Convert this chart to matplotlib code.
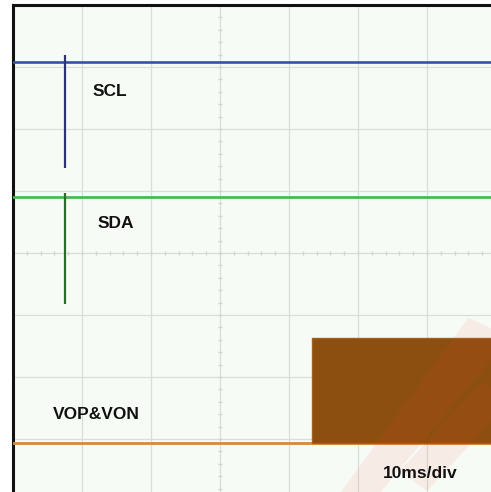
import numpy as np
import matplotlib.pyplot as plt
from matplotlib.patches import Polygon

# scope capture, 10 ms/div, values in divisions (0 = screen centre)
t_end = 100.0                     # ms shown across the 10 divisions
scl_level = 3.08
scl_glitch_t = 7.5
scl_glitch = [1.37, 3.2]
sda_level = 0.9
sda_glitch_t = 7.5
sda_glitch = [-0.82, 0.97]
vop_base = -3.06
vop_on_t = 43.3
vop_top = -1.37

labels = ["SCL", "SDA", "VOP&VON", "10ms/div"]
label_x = [11.6, 12.3, 5.8, 53.6]
label_y = [2.6, 0.48, -2.6, -3.55]

fig = plt.figure(figsize=(4.91, 4.92), dpi=100)
fig.patch.set_facecolor("white")
# the capture is cropped on the right and bottom
ax = fig.add_axes([13 / 491, 1 - 5 / 492 - 496 / 492, 690 / 491, 496 / 492])
ax.set_facecolor("#f7fbf6")
ax.set_xlim(0, t_end)
ax.set_ylim(-4, 4)

# graticule
for gx in np.arange(10, 100, 10):
    ax.axvline(gx, color="#dadeda", lw=0.9, zorder=1)
for gy in np.arange(-3, 4, 1):
    ax.axhline(gy, color="#dadeda", lw=0.9, zorder=1)
ax.axvline(30, color="#d6dad6", lw=0.7, ls=(0, (1, 2)), zorder=1)
ax.axhline(0, color="#d6dad6", lw=0.7, ls=(0, (1, 2)), zorder=1)
minor_x = np.arange(0, 100, 2)
minor_y = np.arange(-4, 4, 0.2)
ax.plot(minor_x, np.zeros_like(minor_x), "|", color="#d2d6d2", ms=3, zorder=1)
ax.plot(np.full_like(minor_y, 30), minor_y, "_", color="#d2d6d2", ms=3, zorder=1)

# faint watermark
wm = Polygon([(0.455, -0.02), (0.51, -0.02), (0.72, 0.33), (0.66, 0.37)],
             closed=True, transform=ax.transAxes, color="#ff3b30", alpha=0.08,
             lw=0, zorder=4)
ax.add_patch(wm)
wm2 = Polygon([(0.56, 0.06), (0.6, 0.02), (0.72, 0.2), (0.68, 0.24)],
              closed=True, transform=ax.transAxes, color="#ff3b30", alpha=0.08,
              lw=0, zorder=4)
ax.add_patch(wm2)

# traces
ax.plot([0, t_end], [scl_level, scl_level], color="#3352a3", lw=1.9, zorder=3)
ax.vlines(scl_glitch_t, scl_glitch[0], scl_glitch[1], color="#2b3572", lw=1.6, zorder=3)
ax.plot([0, t_end], [sda_level, sda_level], color="#3dbb43", lw=1.9, zorder=3)
ax.vlines(sda_glitch_t, sda_glitch[0], sda_glitch[1], color="#2d6a30", lw=1.6, zorder=3)
ax.plot([0, t_end], [vop_base, vop_base], color="#d48a3c", lw=2.0, zorder=3)
ax.fill_between([vop_on_t, t_end], vop_base, vop_top, color="#8d4f10",
                edgecolor="#a0621e", lw=1.0, zorder=3)

for txt, lx, ly in zip(labels, label_x, label_y):
    ax.text(lx, ly, txt, ha="left", va="center", fontsize=12.5,
            fontweight="bold", family="Liberation Sans", color="#111111", zorder=5)

ax.set_xticks([])
ax.set_yticks([])
for side in ["right", "bottom"]:
    ax.spines[side].set_visible(False)
for side in ["left", "top"]:
    ax.spines[side].set_linewidth(2.2)
    ax.spines[side].set_color("#111111")

fig.savefig("out.png", dpi=100)
